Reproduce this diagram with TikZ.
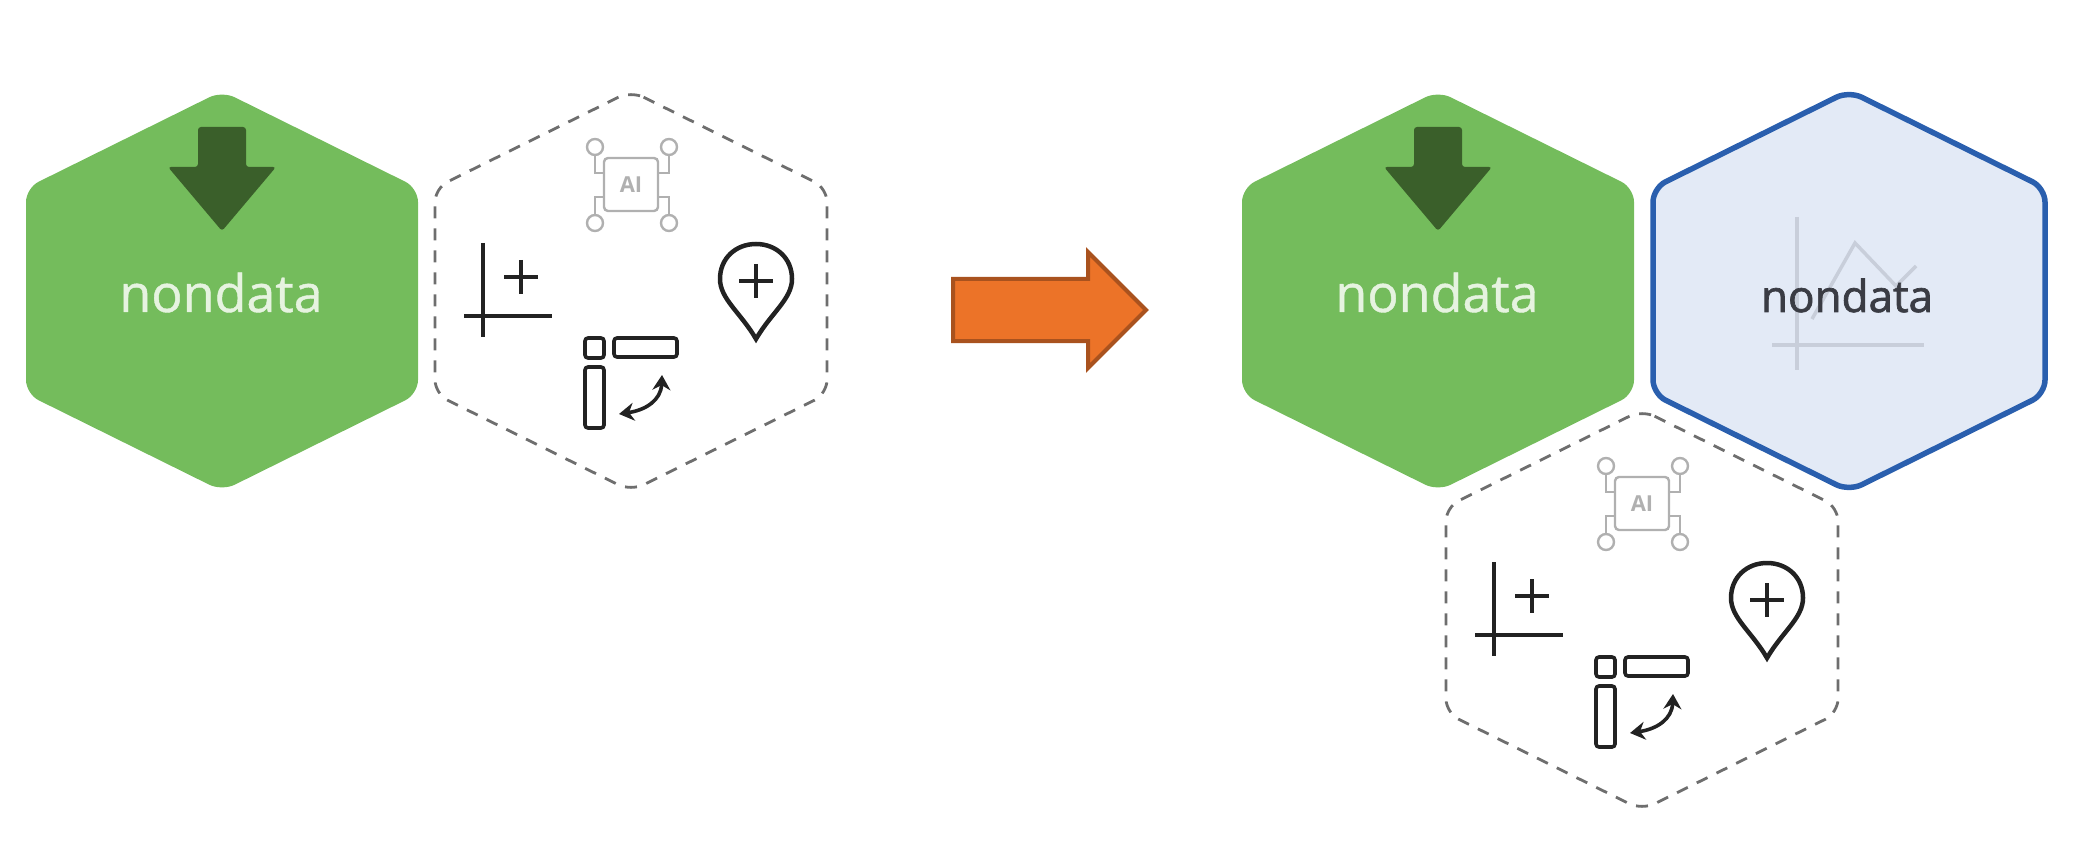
\documentclass[tikz,border=0pt]{standalone}
\usepackage{fontspec}
\setmainfont{Open Sans}
\newfontfamily\labelfont{Open Sans}[FakeBold=0.8]
\newfontfamily\darkfont{Open Sans}[FakeBold=1.6]
\usetikzlibrary{arrows.meta,positioning,shapes.arrows}

\definecolor{hexgreen}{HTML}{74BC5C}
\definecolor{arrowgreen}{HTML}{3A5F2A}
\definecolor{labelgreen}{HTML}{E6F3E0}
\definecolor{hexblue}{HTML}{E3EAF6}
\definecolor{edgeblue}{HTML}{2A5FAE}
\definecolor{chartgrey}{HTML}{C8CEDA}
\definecolor{labeldark}{HTML}{3A3C44}
\definecolor{dashgrey}{HTML}{6E6E6E}
\definecolor{chipgrey}{HTML}{B0B0B0}
\definecolor{iconblack}{HTML}{222222}
\definecolor{arroworange}{HTML}{EC7328}
\definecolor{arrowedge}{HTML}{A9521E}

\tikzset{
  hexa/.pic = {
    \path[pic actions, rounded corners=14pt] (0,-200) -- (196,-103) -- (196,103) -- (0,200) -- (-196,103) -- (-196,-103) -- cycle;
  },
  hexlabel/.style = {anchor=base, inner sep=0pt, font=\labelfont\fontsize{52}{52}\selectfont},
  chipline/.style = {draw=chipgrey, line width=2.4pt},
  iconline/.style = {draw=iconblack, line width=4.5pt},
  boxline/.style = {draw=iconblack, line width=3.6pt, rounded corners=3pt},
  greenhex/.pic = {
    \pic[fill=hexgreen] {hexa};
    \path[fill=arrowgreen, rounded corners=3pt] (-24,-164) -- (24,-164) -- (24,-124) -- (54,-124) -- (0,-60) -- (-54,-124) -- (-24,-124) -- cycle;
    \node[hexlabel, text=labelgreen] (-label) at (-1,21) {nondata};
  },
  bluehex/.pic = {
    \pic[fill=hexblue, draw=edgeblue, line width=5.5pt] {hexa};
    \draw[chartgrey, line width=3.5pt] (-52,-74) -- (-52,79) (-77,54) -- (75,54);
    \draw[chartgrey, line width=3.5pt] (-37,28) -- (6,-48) -- (47,-5) -- (67,-25);
    \node[hexlabel, text=labeldark, font=\darkfont\fontsize{44}{44}\selectfont] (-label) at (-2,21) {nondata};
  },
  iconhex/.pic = {
    \pic[draw=dashgrey, line width=2.8pt, dash pattern=on 12pt off 10pt] {hexa};
    % chip
    \draw[chipline, rounded corners=4pt] (-27,-133) rectangle (27,-80);
    \node[inner sep=0pt, text=chipgrey, font=\fontsize{22}{22}\bfseries\selectfont] (-chip) at (0,-106) {AI};
    \draw[chipline] (-36,-136) -- (-36,-118) -- (-27,-118) (38,-136) -- (38,-118) -- (27,-118);
    \draw[chipline] (-36,-76) -- (-36,-94) -- (-27,-94) (38,-76) -- (38,-94) -- (27,-94);
    \draw[chipline] (-36,-144) circle (8) (38,-144) circle (8) (-36,-68) circle (8) (38,-68) circle (8);
    % axis
    \draw[iconline] (-148,-48) -- (-148,46) (-167,25) -- (-79,25);
    \draw[iconline] (-127,-14) -- (-93,-14) (-110,-31) -- (-110,3);
    % pin
    \draw[iconline] (125,48) .. controls (110,22) and (89,8) .. (89,-12) .. controls (89,-33) and (105,-47) .. (125,-47) .. controls (145,-47) and (161,-33) .. (161,-12) .. controls (161,8) and (140,22) .. (125,48) -- cycle;
    \draw[iconline] (108,-10) -- (142,-10) (125,-27) -- (125,7);
    % fields
    \draw[boxline] (-46,47) rectangle (-27,67);
    \draw[boxline] (-17,47) rectangle (46,66);
    \draw[boxline] (-46,76) rectangle (-27,137);
    \draw[iconblack, line width=3.6pt, {Stealth[length=15pt,width=18pt]}-{Stealth[length=15pt,width=18pt]}] (31,84) .. controls (30,109) and (15,119) .. (-12,123);
  },
  bigarrow/.style = {draw=arrowedge, fill=arroworange, line width=4pt, single arrow, single arrow tip angle=90, single arrow head indent=0pt, single arrow head extend=27pt, minimum height=193pt, inner xsep=0pt, inner ysep=29pt, outer sep=0pt}
}

\begin{document}
\begin{tikzpicture}[x=1pt, y=-1pt]
  \useasboundingbox (0,0) rectangle (2090,850);

  % Left side
  \pic (green_l) at (222,291) {greenhex};
  \pic (icons_l) at (631,291) {iconhex};

  % Arrow
  \node[bigarrow] (step_arrow) at (1034,310) {};

  % Right side
  \pic (green_r) at (1438,291) {greenhex};
  \pic (blue_r) at (1849,291) {bluehex};
  \pic (icons_r) at (1642,610) {iconhex};
\end{tikzpicture}
\end{document}
